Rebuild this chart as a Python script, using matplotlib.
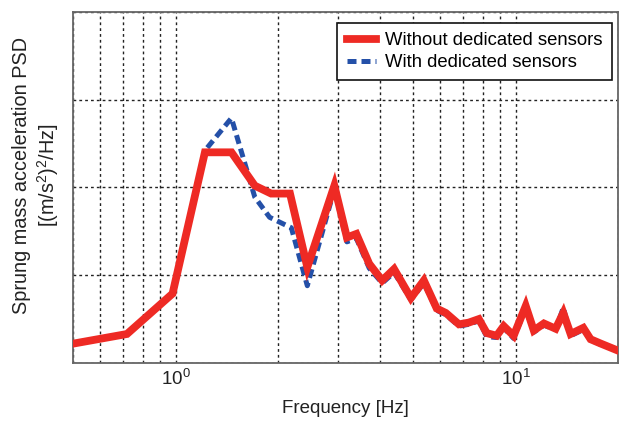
import numpy as np
import matplotlib.pyplot as plt
from matplotlib.ticker import LogLocator, NullFormatter

plt.rcParams['font.family'] = ['Liberation Sans', 'DejaVu Sans']
plt.rcParams['mathtext.fontset'] = 'custom'
plt.rcParams['mathtext.rm'] = 'Liberation Sans'

# frequency [Hz] and PSD (arbitrary linear units, grid at 1, 2, 3)
freq_red = [0.5, 0.72, 0.98, 1.22, 1.46, 1.71, 1.91, 2.17, 2.44, 2.93, 3.19, 3.40,
            3.71, 4.05, 4.39, 4.92, 5.37, 5.86, 6.23, 6.81, 7.28, 7.79, 8.22, 8.79,
            9.22, 9.86, 10.7, 11.3, 12.1, 13.1, 13.8, 14.5, 15.8, 16.6, 17.8, 20.0]
psd_red = [0.22, 0.33, 0.79, 2.40, 2.40, 2.02, 1.93, 1.93, 1.09, 2.02, 1.43, 1.47,
           1.13, 0.94, 1.07, 0.74, 0.94, 0.62, 0.57, 0.44, 0.46, 0.50, 0.34, 0.31,
           0.42, 0.31, 0.65, 0.37, 0.45, 0.39, 0.57, 0.33, 0.40, 0.27, 0.22, 0.14]

freq_blue = [0.5, 0.72, 0.98, 1.22, 1.46, 1.71, 1.89, 2.19, 2.44, 2.93, 3.19, 3.40,
             3.71, 4.05, 4.39, 4.92, 5.37, 5.86, 6.23, 6.81, 7.28, 7.79, 8.22, 8.79,
             9.22, 9.86, 10.7, 11.3, 12.1, 13.1, 13.8, 14.5, 15.8, 16.6, 17.8, 20.0]
psd_blue = [0.22, 0.33, 0.79, 2.42, 2.79, 1.89, 1.66, 1.54, 0.88, 1.98, 1.38, 1.42,
            1.08, 0.91, 1.03, 0.72, 0.91, 0.60, 0.55, 0.42, 0.44, 0.48, 0.30, 0.29,
            0.40, 0.28, 0.62, 0.35, 0.43, 0.38, 0.63, 0.31, 0.38, 0.26, 0.21, 0.14]

fig = plt.figure(figsize=(6.25, 4.25), dpi=100)
ax = fig.add_axes([0.117, 0.146, 0.872, 0.826])

ax.plot(freq_blue, psd_blue, color='#2450a8', lw=3.6, linestyle=(0, (1.8, 1.0)),
        label='With dedicated sensors', zorder=3)
ax.plot(freq_red, psd_red, color='#ee2a24', lw=5.6, solid_joinstyle='miter',
        label='Without dedicated sensors', zorder=4)

ax.set_xscale('log')
ax.set_xlim(0.5, 20)
ax.set_ylim(0, 4)
ax.set_yticks([0, 1, 2, 3, 4])
ax.set_yticklabels([])
ax.xaxis.set_minor_locator(LogLocator(base=10, subs=np.arange(2, 10)))
ax.xaxis.set_minor_formatter(NullFormatter())
ax.set_xticks([1, 10])
ax.set_xticklabels(['$10^0$', '$10^1$'])

ax.grid(True, which='both', axis='x', color='#222222', lw=1.0, linestyle=(0, (2, 2.2)))
ax.grid(True, which='major', axis='y', color='#222222', lw=1.0, linestyle=(0, (2, 2.2)))
ax.tick_params(which='both', direction='in', length=0, labelsize=13.5, pad=4, colors='#222222')
for s in ax.spines.values():
    s.set_color('#666666')
    s.set_linewidth(1.3)

ax.set_xlabel('Frequency [Hz]', fontsize=13.5, color='#222222', labelpad=8)
ax.set_ylabel('Sprung mass acceleration PSD\n[(m/s$^2$)$^2$/Hz]', fontsize=14.3,
              color='#222222', linespacing=1.2)
ax.yaxis.set_label_coords(-0.022, 0.535)

h, l = ax.get_legend_handles_labels()
leg = ax.legend(h[::-1], l[::-1], loc='upper right', bbox_to_anchor=(0.989, 0.969),
                fontsize=13.3, frameon=True, fancybox=False, edgecolor='#111111',
                framealpha=1, handlelength=1.6, handletextpad=0.5, borderaxespad=0,
                labelspacing=0.28, borderpad=0.5)
leg.get_frame().set_linewidth(1.2)

fig.savefig('out.png', dpi=100)
